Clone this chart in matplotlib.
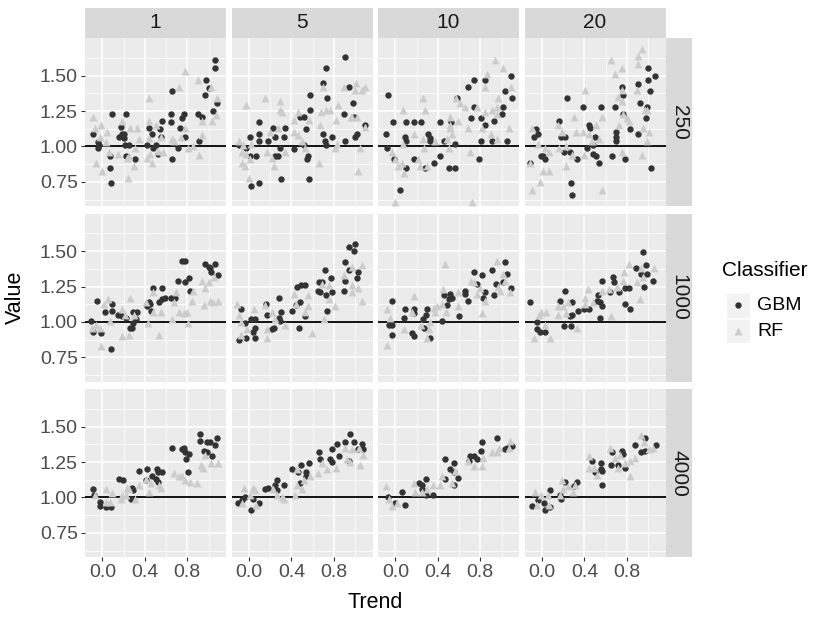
import matplotlib
matplotlib.use("Agg")
from matplotlib import pyplot as plt
from matplotlib.patches import Rectangle

plt.rcParams['font.family'] = ['Liberation Sans', 'DejaVu Sans']

# facet labels
col_labels = ["1", "5", "10", "20"]
row_labels = ["250", "1000", "4000"]

# (Trend, Value) pairs, one list per panel and classifier
gbm_250_1 = [(1.06, 1.61), (1.06, 1.55), (0.98, 1.47), (1.00, 1.41), (0.97, 1.36), (1.08, 1.31), (1.04, 1.25),
             (0.66, 1.39), (0.09, 1.23), (0.22, 1.23), (0.65, 1.23), (0.77, 1.23), (0.75, 1.20), (0.90, 1.23),
             (0.94, 1.21), (0.65, 1.17), (0.56, 1.18), (0.17, 1.14), (-0.09, 1.09), (0.20, 1.09), (0.16, 1.07),
             (0.44, 1.13), (0.47, 1.09), (0.54, 1.12), (0.55, 1.07), (0.73, 1.13), (0.78, 1.07), (0.91, 1.04),
             (-0.04, 1.03), (-0.03, 1.01), (-0.04, 0.99), (0.21, 1.01), (0.25, 1.01), (0.42, 1.01), (0.50, 1.01),
             (0.48, 0.99), (0.71, 0.99), (0.07, 0.93), (0.22, 0.93), (0.31, 0.91), (0.52, 0.95), (0.66, 0.91),
             (0.07, 0.85), (0.08, 0.74), (0.20, 1.06), (0.18, 1.09)]
rf_250_1 = [(0.78, 1.53), (0.90, 1.47), (0.72, 1.42), (1.02, 1.42), (0.44, 1.34), (1.08, 1.34), (-0.09, 1.21),
            (0.18, 1.18), (-0.01, 1.15), (-0.07, 1.13), (0.26, 1.13), (0.33, 1.13), (0.44, 1.18), (0.50, 1.15),
            (0.04, 1.10), (-0.02, 1.07), (0.34, 1.05), (0.66, 1.05), (0.78, 1.13), (0.94, 1.18), (0.94, 1.08),
            (1.07, 1.22), (1.03, 1.18), (0.55, 1.07), (0.44, 1.06), (0.74, 1.07), (0.81, 0.99), (0.85, 1.00),
            (0.91, 0.94), (0.03, 1.03), (0.06, 0.96), (0.15, 0.95), (0.25, 0.93), (0.23, 0.92), (0.31, 0.99),
            (0.42, 0.92), (0.45, 0.95), (0.47, 0.88), (0.52, 0.97), (0.57, 0.96), (-0.06, 0.88), (0.00, 0.83),
            (0.30, 0.86), (0.24, 0.78), (0.67, 1.04)]

gbm_250_5 = [(0.91, 1.63), (0.73, 1.55), (0.70, 1.45), (0.94, 1.42), (0.74, 1.34), (0.98, 1.31), (0.58, 1.36),
             (0.58, 1.26), (0.90, 1.23), (0.99, 1.21), (0.48, 1.21), (0.52, 1.21), (0.09, 1.17), (0.54, 1.12),
             (1.09, 1.15), (1.02, 1.09), (1.00, 1.07), (0.91, 1.04), (0.78, 1.07), (0.70, 1.09), (0.72, 1.04),
             (0.73, 1.01), (0.23, 1.13), (0.34, 1.13), (0.09, 1.09), (0.01, 1.07), (0.09, 1.04), (0.18, 1.04),
             (0.25, 1.07), (0.33, 1.07), (-0.09, 1.01), (-0.03, 0.99), (0.29, 0.99), (0.42, 0.98), (0.52, 1.01),
             (0.01, 0.93), (0.07, 0.93), (0.25, 0.93), (0.27, 0.93), (0.56, 0.93), (0.55, 0.91), (0.02, 0.72),
             (0.09, 0.74), (0.30, 0.77), (0.57, 0.77)]
rf_250_5 = [(0.90, 1.42), (1.01, 1.45), (1.00, 1.40), (1.07, 1.40), (1.09, 1.42), (0.70, 1.42), (0.15, 1.34),
            (0.29, 1.32), (-0.03, 1.29), (0.29, 1.26), (0.31, 1.24), (0.73, 1.26), (0.76, 1.26), (0.68, 1.24),
            (0.84, 1.29), (0.97, 1.21), (1.02, 1.21), (0.96, 1.21), (0.46, 1.24), (0.42, 1.19), (0.57, 1.19),
            (0.82, 1.19), (0.67, 1.15), (1.09, 1.14), (0.27, 1.13), (0.20, 1.10), (0.42, 1.10), (0.46, 1.08),
            (0.50, 1.04), (0.83, 1.02), (0.81, 0.99), (-0.09, 1.04), (-0.06, 1.01), (0.02, 1.02), (-0.07, 0.96),
            (-0.03, 0.95), (0.17, 0.96), (0.34, 0.96), (0.22, 0.92), (0.01, 0.91), (-0.07, 0.88), (-0.04, 0.86),
            (0.24, 0.86), (0.66, 0.88), (1.05, 0.99), (1.03, 0.83), (0.00, 0.78), (0.53, 0.99)]

gbm_250_10 = [(1.09, 1.50), (1.03, 1.39), (1.10, 1.34), (0.74, 1.47), (0.84, 1.47), (0.68, 1.42), (-0.07, 1.36),
              (1.01, 1.28), (1.00, 1.23), (0.93, 1.18), (0.74, 1.28), (0.71, 1.20), (0.81, 1.20), (0.84, 1.15),
              (-0.02, 1.17), (0.10, 1.17), (0.17, 1.17), (0.24, 1.17), (0.42, 1.17), (0.52, 1.17), (-0.09, 1.09),
              (0.09, 1.07), (0.10, 1.04), (0.31, 1.09), (0.33, 1.06), (0.33, 1.04), (0.46, 1.04), (0.56, 1.02),
              (0.81, 1.04), (0.91, 1.04), (1.05, 1.04), (-0.08, 0.99), (-0.01, 0.91), (0.17, 0.91), (0.10, 0.85),
              (0.28, 0.85), (0.36, 0.88), (0.42, 0.93), (0.50, 0.85), (0.56, 0.85), (0.79, 0.91), (0.04, 0.69),
              (0.58, 1.34)]
rf_250_10 = [(0.94, 1.61), (1.01, 1.55), (0.86, 1.51), (0.84, 1.42), (1.09, 1.42), (0.97, 1.34), (0.26, 1.34),
             (0.57, 1.34), (0.61, 1.31), (0.96, 1.28), (0.66, 1.28), (0.77, 1.28), (0.91, 1.26), (0.07, 1.26),
             (0.28, 1.26), (0.84, 1.24), (0.96, 1.23), (0.51, 1.21), (0.59, 1.18), (0.51, 1.15), (0.51, 1.13),
             (0.68, 1.13), (0.82, 1.13), (1.07, 1.13), (0.90, 1.09), (0.96, 1.05), (0.17, 1.09), (0.53, 1.09),
             (0.49, 1.05), (0.26, 1.05), (0.37, 1.04), (0.07, 1.02), (0.27, 0.99), (0.50, 0.99), (0.70, 0.96),
             (-0.03, 0.96), (0.00, 0.91), (0.02, 0.86), (0.06, 0.88), (0.08, 0.81), (0.21, 0.91), (0.23, 0.86),
             (0.30, 0.86), (0.00, 0.61), (0.72, 0.61)]

gbm_250_20 = [(1.00, 1.55), (1.07, 1.50), (1.00, 1.47), (0.91, 1.44), (1.02, 1.39), (0.75, 1.42), (0.76, 1.36),
              (0.92, 1.31), (0.99, 1.28), (0.98, 1.20), (0.24, 1.34), (0.39, 1.28), (0.56, 1.28), (0.69, 1.28),
              (0.76, 1.23), (0.16, 1.18), (0.44, 1.15), (0.45, 1.13), (0.83, 1.12), (0.91, 1.09), (0.70, 1.10),
              (0.70, 1.07), (0.70, 1.04), (-0.06, 1.12), (-0.04, 1.09), (-0.08, 1.07), (0.18, 1.07), (0.22, 1.07),
              (0.50, 1.07), (0.48, 1.01), (0.42, 0.99), (0.21, 0.96), (0.26, 0.96), (0.48, 0.95), (0.51, 0.93),
              (0.54, 0.88), (0.33, 0.91), (-0.01, 0.93), (0.03, 0.91), (0.01, 0.93), (0.66, 0.93), (0.78, 0.91),
              (1.03, 0.85), (0.27, 0.74), (0.28, 0.66), (-0.11, 0.88)]
rf_250_20 = [(0.94, 1.69), (0.91, 1.64), (0.91, 1.58), (0.65, 1.61), (0.75, 1.55), (0.69, 1.51), (0.41, 1.40),
             (0.75, 1.40), (0.90, 1.40), (0.75, 1.32), (0.72, 1.35), (0.99, 1.26), (0.97, 1.26), (0.76, 1.23),
             (0.80, 1.20), (0.82, 1.18), (0.57, 1.21), (0.30, 1.21), (0.15, 1.15), (0.51, 1.15), (0.73, 1.15),
             (0.95, 1.13), (1.01, 1.10), (0.99, 1.04), (-0.09, 1.13), (0.32, 1.10), (0.39, 1.10), (0.19, 1.10),
             (0.44, 1.09), (0.54, 1.05), (0.47, 1.04), (-0.04, 1.02), (0.03, 0.99), (0.07, 0.96), (0.16, 0.99),
             (0.23, 1.00), (0.28, 0.94), (0.40, 0.94), (0.75, 0.96), (0.94, 0.94), (-0.11, 0.88), (0.01, 0.83),
             (0.07, 0.83), (0.23, 0.86), (-0.02, 0.75), (-0.09, 0.69), (0.57, 0.69)]

gbm_1000_1 = [(0.75, 1.43), (0.78, 1.43), (0.97, 1.41), (1.01, 1.38), (1.06, 1.41), (1.02, 1.35), (1.09, 1.33),
              (1.00, 1.39), (0.71, 1.29), (0.78, 1.28), (0.82, 1.31), (0.48, 1.24), (0.56, 1.24), (0.59, 1.17),
              (0.56, 1.16), (0.53, 1.14), (0.65, 1.17), (0.68, 1.17), (0.44, 1.14), (0.45, 1.13), (0.42, 1.11),
              (0.46, 1.08), (-0.05, 1.15), (0.09, 1.13), (0.09, 1.08), (0.02, 1.07), (0.15, 1.05), (0.18, 1.04),
              (0.22, 1.03), (0.29, 1.07), (0.33, 1.07), (0.32, 1.02), (0.29, 0.99), (0.28, 0.96), (0.26, 0.96),
              (-0.11, 1.01), (-0.09, 0.93), (-0.01, 0.92), (0.08, 0.81), (0.83, 1.22)]
rf_1000_1 = [(0.94, 1.29), (0.97, 1.24), (1.00, 1.28), (1.05, 1.32), (0.69, 1.21), (0.85, 1.22), (0.48, 1.21),
             (0.26, 1.17), (0.05, 1.16), (0.01, 1.13), (0.41, 1.14), (0.84, 1.15), (1.01, 1.15), (1.09, 1.15),
             (1.04, 1.14), (0.96, 1.12), (0.67, 1.14), (0.55, 1.07), (0.48, 1.07), (0.72, 1.07), (0.77, 1.06),
             (0.80, 1.07), (0.07, 1.01), (0.18, 1.09), (0.21, 1.05), (0.30, 1.05), (0.66, 1.02), (0.81, 0.99),
             (0.43, 0.99), (-0.06, 0.98), (-0.02, 0.96), (-0.10, 0.96), (0.18, 0.90), (0.25, 0.91), (0.53, 0.91),
             (-0.01, 0.83)]

gbm_1000_5 = [(0.94, 1.53), (1.00, 1.55), (0.99, 1.50), (0.91, 1.42), (0.94, 1.37), (1.03, 1.35), (1.02, 1.31),
              (0.91, 1.29), (0.90, 1.22), (0.72, 1.37), (0.77, 1.31), (0.66, 1.28), (0.69, 1.28), (0.65, 1.22),
              (0.67, 1.21), (0.73, 1.19), (0.78, 1.21), (0.74, 1.08), (0.45, 1.25), (0.49, 1.26), (0.53, 1.26),
              (0.48, 1.14), (0.44, 1.12), (0.53, 1.04), (0.47, 0.96), (0.41, 1.08), (0.28, 1.17), (0.30, 1.07),
              (0.28, 1.03), (0.29, 1.01), (0.16, 1.13), (0.17, 1.05), (0.22, 0.95), (0.24, 0.96), (-0.08, 1.09),
              (0.02, 1.02), (0.06, 1.02), (-0.04, 0.99), (0.06, 0.96), (0.04, 0.93), (0.06, 0.89), (-0.03, 0.89),
              (-0.09, 0.87)]
rf_1000_5 = [(0.90, 1.33), (0.97, 1.39), (1.07, 1.40), (0.97, 1.26), (0.97, 1.21), (1.03, 1.24), (1.07, 1.15),
             (0.69, 1.27), (0.75, 1.26), (0.75, 1.16), (0.81, 1.11), (0.71, 1.02), (0.42, 1.20), (0.56, 1.19),
             (0.44, 1.13), (0.56, 1.11), (0.53, 1.07), (0.59, 0.92), (0.34, 0.98), (0.22, 1.07), (0.25, 1.02),
             (0.15, 1.12), (0.05, 1.09), (-0.11, 1.13), (-0.09, 1.05), (-0.08, 1.00), (-0.02, 0.95), (0.17, 0.95),
             (0.17, 0.89), (-0.08, 0.91)]

gbm_1000_10 = [(1.03, 1.42), (1.05, 1.34), (0.91, 1.37), (0.82, 1.33), (0.74, 1.35), (1.01, 1.28), (0.95, 1.27),
               (1.09, 1.24), (0.93, 1.19), (0.84, 1.21), (0.83, 1.17), (0.66, 1.22), (0.66, 1.20), (0.68, 1.15),
               (0.77, 1.27), (0.51, 1.20), (0.53, 1.17), (0.50, 1.16), (0.46, 1.19), (0.49, 1.12), (0.60, 1.04),
               (0.44, 1.01), (-0.03, 1.15), (0.09, 1.09), (0.17, 1.09), (0.17, 1.06), (0.08, 1.03), (0.30, 1.09),
               (0.29, 1.05), (0.26, 1.02), (0.27, 0.96), (-0.06, 0.98), (-0.03, 0.91), (0.16, 0.92), (0.17, 0.90),
               (0.33, 0.89), (-0.03, 0.98)]
rf_1000_10 = [(0.47, 1.41), (0.96, 1.43), (1.01, 1.34), (1.03, 1.29), (0.71, 1.29), (0.74, 1.28), (0.77, 1.20),
              (0.80, 1.24), (0.97, 1.25), (0.99, 1.22), (1.08, 1.21), (0.84, 1.15), (0.82, 1.06), (0.45, 1.23),
              (0.59, 1.21), (0.44, 1.13), (0.39, 1.11), (0.59, 1.11), (0.48, 1.07), (0.36, 1.10), (0.37, 1.07),
              (0.33, 1.00), (0.17, 1.18), (0.16, 1.07), (0.24, 0.98), (0.08, 0.95), (0.32, 0.95), (0.30, 0.89),
              (-0.08, 1.09), (-0.05, 1.03), (-0.08, 0.84)]

gbm_1000_20 = [(0.95, 1.49), (0.98, 1.40), (0.89, 1.38), (0.93, 1.34), (0.99, 1.34), (1.05, 1.29), (0.96, 1.25),
               (0.67, 1.32), (0.68, 1.28), (0.57, 1.29), (0.64, 1.21), (0.73, 1.21), (0.78, 1.24), (0.82, 1.24),
               (0.53, 1.19), (0.52, 1.15), (0.55, 1.14), (0.57, 1.11), (0.55, 1.03), (0.78, 1.13), (0.83, 1.09),
               (0.40, 1.09), (0.44, 1.09), (0.22, 1.22), (0.17, 1.15), (0.28, 1.14), (0.34, 1.08), (0.28, 1.05),
               (0.26, 1.04), (0.21, 0.97), (0.27, 0.97), (-0.11, 1.14), (-0.05, 1.00), (-0.05, 0.95), (-0.02, 0.93),
               (0.03, 0.93)]
rf_1000_20 = [(0.82, 1.41), (0.93, 1.38), (1.06, 1.38), (0.77, 1.35), (0.90, 1.28), (0.95, 1.32), (0.76, 1.29),
              (0.71, 1.25), (0.63, 1.23), (0.43, 1.23), (0.57, 1.22), (0.41, 1.17), (0.48, 1.14), (0.25, 1.14),
              (0.15, 1.11), (0.20, 1.11), (0.15, 1.05), (0.41, 1.13), (0.65, 1.04), (0.92, 1.16), (-0.01, 1.07),
              (0.04, 1.07), (-0.03, 1.05), (0.23, 1.06), (0.33, 0.96), (-0.08, 0.89), (0.08, 0.89), (0.03, 0.98)]

gbm_4000_1 = [(0.92, 1.45), (0.92, 1.40), (0.99, 1.39), (1.01, 1.39), (1.08, 1.42), (1.06, 1.37), (0.96, 1.33),
              (0.99, 1.32), (1.03, 1.29), (0.66, 1.35), (0.75, 1.34), (0.77, 1.35), (0.78, 1.32), (0.82, 1.31),
              (0.79, 1.27), (0.81, 1.18), (0.34, 1.19), (0.42, 1.20), (0.51, 1.20), (0.52, 1.18), (0.56, 1.18),
              (0.47, 1.15), (0.50, 1.13), (0.52, 1.11), (0.41, 1.12), (0.16, 1.13), (0.19, 1.12), (0.28, 1.07),
              (0.29, 1.05), (0.27, 0.99), (-0.09, 1.06), (-0.08, 1.02), (-0.02, 0.97), (-0.02, 0.94), (0.03, 0.93),
              (0.08, 0.93)]
rf_4000_1 = [(0.93, 1.23), (0.95, 1.21), (0.97, 1.30), (1.02, 1.24), (1.09, 1.24), (0.67, 1.17), (0.72, 1.15),
             (0.75, 1.15), (0.78, 1.12), (0.83, 1.11), (0.89, 1.10), (0.41, 1.13), (0.46, 1.10), (0.53, 1.09),
             (0.55, 1.07), (0.34, 1.09), (0.44, 1.04), (0.23, 1.07), (0.25, 1.06), (0.18, 1.02), (0.17, 0.99),
             (0.31, 0.99), (0.22, 1.02), (0.03, 1.06), (0.09, 1.03), (-0.07, 1.02), (0.03, 0.97), (0.07, 0.97)]

gbm_4000_5 = [(0.95, 1.45), (0.91, 1.39), (0.99, 1.39), (1.07, 1.38), (1.08, 1.34), (0.83, 1.38), (0.78, 1.34),
              (1.03, 1.34), (0.66, 1.32), (0.67, 1.27), (0.76, 1.27), (0.78, 1.25), (0.85, 1.29), (0.94, 1.26),
              (0.49, 1.23), (0.57, 1.24), (0.41, 1.20), (0.46, 1.18), (0.54, 1.18), (0.54, 1.15), (0.48, 1.10),
              (0.26, 1.12), (0.33, 1.09), (0.25, 1.09), (0.15, 1.06), (0.18, 1.07), (0.26, 1.05), (-0.04, 1.00),
              (-0.07, 0.98), (-0.10, 0.96), (0.04, 0.99), (0.09, 0.96), (0.02, 0.91)]
rf_4000_5 = [(0.91, 1.35), (0.97, 1.34), (1.04, 1.35), (1.08, 1.30), (1.05, 1.23), (0.92, 1.27), (0.95, 1.25),
             (0.69, 1.24), (0.74, 1.20), (0.82, 1.21), (0.65, 1.17), (0.45, 1.20), (0.58, 1.15), (0.52, 1.12),
             (0.50, 1.06), (0.45, 1.09), (0.43, 1.02), (0.23, 1.06), (0.26, 1.02), (0.31, 1.00), (0.33, 0.99),
             (-0.05, 1.07), (0.04, 1.07), (0.06, 1.05), (0.01, 1.02), (0.07, 0.95), (-0.07, 0.96)]

gbm_4000_10 = [(0.96, 1.42), (0.82, 1.39), (0.81, 1.33), (1.10, 1.36), (1.05, 1.35), (1.03, 1.34), (0.70, 1.29),
               (0.74, 1.29), (0.77, 1.27), (0.69, 1.26), (0.47, 1.27), (0.55, 1.24), (0.51, 1.20), (0.55, 1.18),
               (0.59, 1.14), (0.55, 1.09), (0.47, 1.13), (0.29, 1.13), (0.22, 1.10), (0.25, 1.09), (0.25, 1.06),
               (0.35, 1.02), (0.29, 1.02), (0.06, 1.04), (-0.07, 1.00), (0.09, 0.95), (0.00, 0.96)]
rf_4000_10 = [(1.08, 1.40), (1.07, 1.35), (0.98, 1.35), (0.91, 1.32), (0.96, 1.32), (0.83, 1.28), (0.82, 1.22),
              (0.74, 1.22), (0.68, 1.26), (0.56, 1.19), (0.44, 1.15), (0.53, 1.10), (0.42, 1.09), (0.35, 1.09),
              (0.30, 1.06), (0.17, 1.10), (0.18, 1.04), (0.25, 1.04), (-0.09, 1.08), (-0.06, 0.99), (-0.03, 0.94),
              (0.01, 0.96)]

gbm_4000_20 = [(0.97, 1.42), (0.88, 1.37), (1.08, 1.37), (0.93, 1.32), (0.97, 1.33), (0.66, 1.32), (0.75, 1.33),
               (0.76, 1.31), (0.78, 1.21), (0.72, 1.23), (0.65, 1.23), (0.56, 1.24), (0.56, 1.20), (0.57, 1.19),
               (0.47, 1.26), (0.50, 1.18), (0.57, 1.09), (0.33, 1.11), (0.30, 1.08), (0.22, 1.11), (0.17, 1.02),
               (0.18, 0.99), (0.08, 1.05), (-0.04, 0.98), (-0.09, 0.94), (0.02, 0.96), (0.03, 0.91), (0.08, 0.93)]
rf_4000_20 = [(0.93, 1.44), (0.96, 1.39), (1.05, 1.35), (1.01, 1.34), (0.88, 1.28), (0.64, 1.35), (0.69, 1.28),
              (0.74, 1.30), (0.72, 1.21), (0.78, 1.24), (0.83, 1.15), (0.83, 1.26), (0.44, 1.29), (0.49, 1.21),
              (0.52, 1.16), (0.44, 1.21), (0.31, 1.09), (0.29, 1.04), (0.19, 1.12), (0.20, 1.06), (0.17, 1.02),
              (0.25, 1.08), (-0.07, 1.04), (-0.01, 1.02), (0.06, 1.02), (-0.05, 0.95), (0.07, 0.95)]

gbm_panels = [[gbm_250_1, gbm_250_5, gbm_250_10, gbm_250_20],
              [gbm_1000_1, gbm_1000_5, gbm_1000_10, gbm_1000_20],
              [gbm_4000_1, gbm_4000_5, gbm_4000_10, gbm_4000_20]]
rf_panels = [[rf_250_1, rf_250_5, rf_250_10, rf_250_20],
             [rf_1000_1, rf_1000_5, rf_1000_10, rf_1000_20],
             [rf_4000_1, rf_4000_5, rf_4000_10, rf_4000_20]]

GBM_COLOR = '#333333'
RF_COLOR = '#CCCCCC'
DOT_S, TRI_S = 21, 32

W, H = 830, 623
fig = plt.figure(figsize=(W / 100, H / 100), dpi=100)


def px_axes(x, y, w, h):
    # place an axes using pixel box (top-left origin)
    return fig.add_axes([x / W, 1 - (y + h) / H, w / W, h / H])


col_left = [85, 231.5, 378, 524.5]
row_top = [38, 213.5, 389]
panel_w, panel_h = 141, 168

for r in range(3):
    for c in range(4):
        ax = px_axes(col_left[c], row_top[r], panel_w, panel_h)
        ax.set_facecolor('#EBEBEB')
        for s in ax.spines.values():
            s.set_visible(False)
        ax.set_xlim(-0.165, 1.165)
        ax.set_ylim(0.58, 1.765)
        ax.set_xticks([0.0, 0.4, 0.8])
        ax.set_xticks([0.2, 0.6, 1.0], minor=True)
        ax.set_yticks([0.75, 1.0, 1.25, 1.5])
        ax.set_yticks([0.625, 0.875, 1.125, 1.375, 1.625], minor=True)
        ax.grid(True, which='major', color='white', linewidth=1.1)
        ax.grid(True, which='minor', color='white', linewidth=0.55)
        ax.set_axisbelow(True)
        ax.tick_params(which='minor', length=0)
        ax.tick_params(which='major', length=3.2, width=0.8, color='#333333',
                       labelsize=14, labelcolor='#4D4D4D', pad=2)
        if c == 0:
            ax.set_yticklabels(['0.75', '1.00', '1.25', '1.50'])
        else:
            ax.tick_params(axis='y', length=0, labelleft=False)
        if r == 2:
            ax.set_xticklabels(['0.0', '0.4', '0.8'])
        else:
            ax.tick_params(axis='x', length=0, labelbottom=False)

        ax.axhline(1.0, color='black', linewidth=1.3, zorder=2)
        g = gbm_panels[r][c]
        f = rf_panels[r][c]
        ax.scatter([p[0] for p in g], [p[1] for p in g], s=DOT_S, marker='o',
                   color=GBM_COLOR, linewidths=0, zorder=3)
        ax.scatter([p[0] for p in f], [p[1] for p in f], s=TRI_S, marker='^',
                   color=RF_COLOR, linewidths=0, zorder=4)

# facet strips
for c in range(4):
    sax = px_axes(col_left[c], 8, panel_w, 30)
    sax.set_facecolor('#D9D9D9')
    sax.set_xticks([])
    sax.set_yticks([])
    for s in sax.spines.values():
        s.set_visible(False)
    sax.text(0.5, 0.5, col_labels[c], ha='center', va='center', fontsize=15,
             color='#1A1A1A', transform=sax.transAxes)

for r in range(3):
    sax = px_axes(666, row_top[r], 26, panel_h)
    sax.set_facecolor('#D9D9D9')
    sax.set_xticks([])
    sax.set_yticks([])
    for s in sax.spines.values():
        s.set_visible(False)
    sax.text(0.5, 0.5, row_labels[r], ha='center', va='center', fontsize=15,
             color='#1A1A1A', rotation=-90, transform=sax.transAxes)

# axis titles
fig.text(15 / W, 1 - 297 / H, 'Value', rotation=90, ha='center', va='center', fontsize=15.5)
fig.text(375 / W, 1 - 603 / H, 'Trend', ha='center', va='center', fontsize=15.5)

# legend drawn by hand, ggplot style
fig.text(722 / W, 1 - 270 / H, 'Classifier', ha='left', va='center', fontsize=15)
lax = px_axes(726.5, 293, 23, 50)
lax.set_xlim(0, 1)
lax.set_ylim(0, 50)
lax.axis('off')
lax.add_patch(Rectangle((0, 26.5), 1, 23, color='#F2F2F2'))
lax.add_patch(Rectangle((0, 0.5), 1, 23, color='#F2F2F2'))
lax.scatter([0.5], [38], s=DOT_S, marker='o', color=GBM_COLOR, linewidths=0)
lax.scatter([0.5], [12], s=TRI_S, marker='^', color=RF_COLOR, linewidths=0)
fig.text(757 / W, 1 - 305 / H, 'GBM', ha='left', va='center', fontsize=14)
fig.text(757 / W, 1 - 331 / H, 'RF', ha='left', va='center', fontsize=14)

fig.savefig('out.png', dpi=100)
